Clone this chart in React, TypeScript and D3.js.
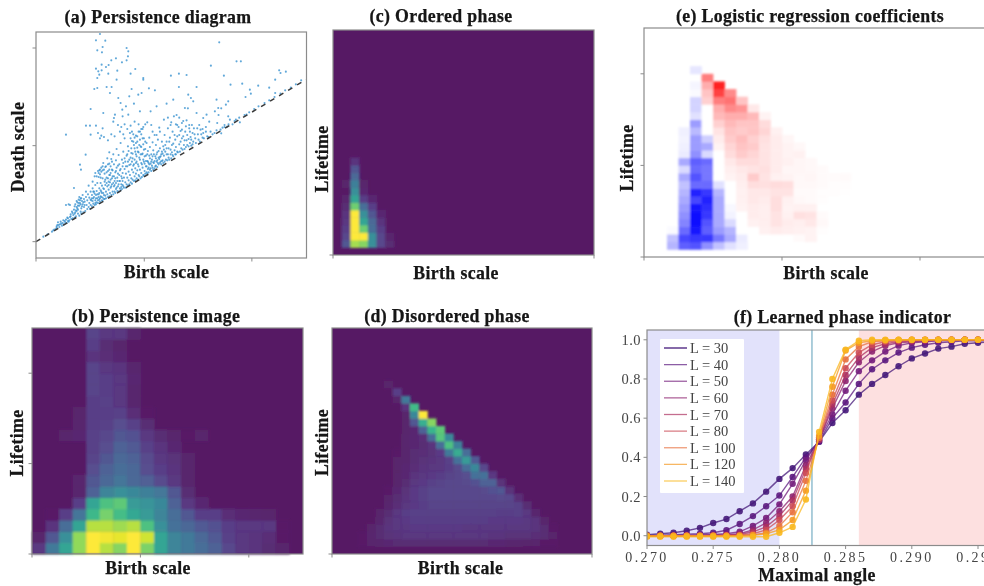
import React from 'react';
import * as d3 from 'd3';

// The axes of (a) carry no printed numbers, so births and deaths are in units.
const diagramPoints = [
  [22,15],[35,22],[48,30],[55,36],[60,38],[52,34],
  [62,42],[64,50],[66,58],[70,44],[72,52],[74,60],[78,48],[80,56],[82,64],[84,52],[88,58],[90,66],[92,56],[94,72],[96,62],[98,60],[90,110],[98,112],[102,110],
  [100,64],[102,74],[104,82],[106,68],[108,90],[110,70],[112,80],[114,96],[116,72],[118,88],[120,76],[122,104],[124,118],[126,84],[126,96],[128,126],[130,78],[130,108],[132,116],[134,90],[134,130],[136,84],[136,100],[138,122],[140,112],[140,140],[114,161],[132,231],[135,216],[149,261],[90,321],[150,348],[162,348],[164,321],
  [142,88],[144,104],[146,120],[148,92],[150,134],[150,150],[152,110],[154,98],[154,124],[156,142],[158,104],[158,168],[160,116],[160,132],[162,98],[164,150],[164,110],[166,124],[168,106],[168,140],[170,160],[170,180],[172,114],[172,130],[174,150],[176,110],[176,196],[178,124],[178,170],[180,140],[180,112],
  [182,118],[182,152],[184,130],[184,176],[186,116],[186,212],[188,142],[188,194],[190,126],[190,160],[192,216],[192,120],[194,136],[194,176],[196,150],[196,222],[198,124],[198,168],[200,132],[200,190],[200,214],[202,146],[202,236],[204,128],[204,158],[206,180],[206,204],[208,138],[208,170],[210,130],[210,150],[210,226],[212,192],[214,142],[214,166],[214,250],[216,134],[216,212],[218,156],[218,180],[220,136],[220,234],[220,268],
  [222,146],[222,200],[224,162],[224,186],[226,140],[226,248],[228,172],[228,216],[230,150],[230,196],[232,142],[232,262],[234,166],[234,232],[236,182],[236,150],[238,208],[238,146],[240,158],[240,176],[240,244],[242,222],[242,278],[244,152],[244,192],[246,166],[246,204],[248,150],[248,260],[250,182],[250,232],[252,160],[252,214],[254,154],[254,296],[256,196],[256,172],[258,246],[258,158],[260,206],[260,226],[260,182],
  [262,166],[262,270],[264,192],[264,162],[266,218],[266,310],[268,178],[268,240],[270,162],[270,204],[272,258],[272,172],[274,192],[274,226],[276,168],[276,286],[278,184],[278,210],[280,246],[280,172],[282,200],[282,326],[284,178],[284,232],[286,266],[286,190],[288,174],[288,216],[290,250],[290,186],[292,208],[292,300],[294,182],[294,232],[296,196],[296,280],[298,220],[298,184],[300,262],[300,204],
  [302,190],[302,240],[304,300],[304,214],[306,186],[306,270],[308,226],[308,200],[310,252],[310,196],[312,216],[312,330],[314,190],[314,286],[316,236],[316,206],[318,262],[318,194],[320,222],[320,310],[322,200],[322,246],[324,198],[324,276],[326,212],[326,234],[328,352],[328,204],[330,258],[330,226],[332,208],[332,296],[334,242],[334,204],[336,218],[336,272],[338,236],[338,208],[340,312],[340,258],
  [342,216],[342,284],[344,234],[346,212],[346,262],[348,246],[350,222],[350,298],[352,216],[352,274],[354,236],[356,220],[356,320],[358,256],[360,228],[360,290],[362,240],[364,224],[364,268],[366,306],[368,232],[368,252],[370,342],[372,236],[372,280],[374,256],[376,232],[378,270],[378,300],[380,244],
  [382,236],[382,286],[384,258],[386,240],[386,320],[388,270],[390,246],[392,300],[392,262],[394,244],[396,340],[398,280],[398,252],[400,246],[402,312],[404,262],[404,350],[406,250],[408,290],[410,260],[410,330],[412,256],[414,376],[416,274],[418,262],[418,306],[420,352],[420,262],
  [422,380],[424,270],[424,316],[426,268],[428,344],[430,292],[432,270],[434,332],[436,280],[438,310],[440,276],[442,362],[444,290],[446,278],[448,330],[450,284],[452,304],[454,290],[456,400],[458,286],[460,340],[462,296],[464,314],[466,288],[468,350],[470,292],
  [472,300],[476,322],[480,296],[484,340],[488,306],[492,300],[496,322],[500,312],[504,310],[510,344],[514,316],[518,314],[524,330],[530,322],[536,326],[542,334],[548,380],[554,336],[556,400],[560,342],
  [192,623],[180,604],[208,603],[184,574],[200,584],[198,568],[272,581],[277,571],[276,556],[272,544],[258,538],[240,550],[226,544],[218,530],[197,531],[210,524],[180,519],[187,511],[197,514],[217,504],[190,501],[184,491],[244,513],[242,486],[298,518],[284,504],[322,491],[322,486],[525,528],[550,598],[602,541],[615,541],[730,514],[734,506],[750,510],[718,486],[405,498],[429,504],[452,500],[564,498],[584,471],[619,474],[667,468],[642,456],[700,462],[718,446],[645,444],[629,434],[482,464],[429,464],[357,454],[339,460],[287,458],[227,464],[212,464],[184,461],[175,458],[222,446],[247,431],[254,416],[280,436],[307,441],[317,446],[294,414],[270,406],[259,396],[164,398],[202,386],[237,381],[234,371],[260,376],[277,381],[312,391],[344,391],[362,406],[392,414],[412,426],[457,441],[465,431],[472,421],[447,401],[542,426],[577,421],[570,411],[547,401],[537,391],[512,381],[482,386],[502,371],[577,376],[582,366],[632,381],[544,356],
  [232,360],[246,350],[256,344],[266,352],[284,348],[296,360],[308,352],[322,344],[334,358],[346,350],[196,318],[186,326],[192,310],[204,314],[216,304],[226,322],[236,316],[252,330],[262,322],[274,338],[200,340],[180,348],[288,330],[300,318],[316,338],[350,330],[362,320],[372,330],[384,366],[396,372],[406,358],[430,372],[438,356],[452,364],[460,350],[474,340],[490,350],[500,338],[520,360],[566,350],[574,345],[590,352],[600,366],[612,358],[556,325],
  [566,344],[578,352],[596,362],[610,372],[626,380],[640,388],[655,398],[668,406],[686,416],[700,424],[716,434],[734,444],[748,454],[765,462],[780,472],[796,484],
  [118,112],[122,122],[126,108],[128,116],[132,124],[134,112],[136,130],[138,106],[142,118],[144,128],[146,110],[130,134],[124,100],[120,94],[116,106],
  [170,122],[174,134],[178,116],[180,130],[184,142],[186,124],[188,134],[190,146],[192,130],[194,154],[196,134],[198,146],[200,122],[202,160],[204,140],[206,128],[176,144],[172,150],[168,130],[164,126],
  [208,186],[212,176],[216,190],[218,170],[220,200],[222,178],[224,206],[226,166],[228,190],[230,214],[232,176],[234,196],[236,170],[238,190],[240,212],[242,162],[244,182],[246,228],[248,172],[250,200],[252,182],[254,218],[256,164],[258,190],[260,170],
  [188,206],[192,202],[196,210],[200,226],[204,216],[208,224],[212,208],[216,232],[220,216],[224,226],[228,240],[194,192],[190,214],[182,196],[178,206],
  [262,236],[266,250],[270,226],[274,262],[276,240],[278,272],[280,230],[284,252],[286,280],[288,240],[290,264],[292,228],[294,290],[296,246],[298,270],[300,236],[302,256],[304,282],[306,232],[308,268],[310,290],[312,246],[314,262],[316,284],[318,232],[320,264],[322,292],[324,240],[326,256],[328,278],
  [330,242],[332,226],[334,262],[336,240],[338,222],[340,232],[342,250],[344,220],[346,240],[348,228],[350,256],[352,238],[354,262],[356,242],[358,226],[360,250],[362,262],[364,244],[366,236],[368,272],[370,248],[372,254],[374,240],[376,262],[378,242],[380,264],
  [284,310],[288,302],[292,322],[296,312],[300,296],[304,316],[308,330],[312,306],[316,322],[320,338],[324,310],[328,300],
  [384,276],[388,290],[392,280],[396,262],[400,300],[404,276],[408,268],[412,294],[416,320],[420,284],
  [424,350],[430,320],[434,300],[438,336],[442,316],[446,304],[450,346],[454,320],[458,308],[462,330],[466,306],[470,326],[478,310],[486,322],[494,336],[502,326],[510,330],
  [62,46],[68,50],[76,54],[86,62],[96,70],[104,76],[110,86],[116,84],[122,92],
];
const diagramDiagonal = [[0, 0], [812, 487]];

// Heat map rows: [row from the bottom, first column, values]. Cells not listed are zero.
const persistenceImage: [number, number, number[]][] = [
  [0, 0, [.1,.35,.55,.82,1,.88,.8,1,.78,.55,.4,.35,.3,.25,.15,.1,.08,.05,.02]],
  [1, 0, [.02,.2,.45,.82,1,.98,.96,1,.92,.55,.4,.35,.28,.22,.13,.1,.08,.06,.01]],
  [2, 1, [.08,.3,.55,.88,.88,.84,.88,.68,.45,.32,.27,.22,.18,.12,.1,.1,.1,.01]],
  [3, 1, [.01,.12,.33,.64,.77,.66,.56,.5,.4,.3,.2,.12,.12,.06,.04,.03,.02]],
  [4, 3, [.12,.55,.68,.72,.5,.47,.42,.25,.1,.04]],
  [5, 3, [.03,.25,.4,.45,.42,.38,.34,.2,.05]],
  [6, 3, [.03,.2,.28,.33,.28,.24,.16,.1,.02]],
  [7, 4, [.17,.25,.3,.27,.17,.12,.08,.02]],
  [8, 4, [.14,.2,.28,.25,.16,.1,.07,.02]],
  [9, 4, [.13,.17,.25,.22,.13,.08,.04]],
  [10, 2, [.02,.04,.13,.15,.2,.18,.1,.05,.02,0,.02]],
  [11, 3, [.03,.12,.13,.17,.13,.05]],
  [12, 3, [.02,.12,.12,.13,.06,.01]],
  [13, 4, [.12,.13,.1,.03]],
  [14, 4, [.14,.12,.1,.03]],
  [15, 4, [.14,.12,.1,.04]],
  [16, 4, [.14,.1,.08,.03]],
  [17, 4, [.08,.06,.04]],
  [18, 4, [.12,.05,.02]],
  [19, 4, [.14,.1,.1,.03]],
];

const orderedPhase: [number, number, number[]][] = [
  [1, 1, [.2,.85,.8,.45,.15,.05]],
  [2, 1, [.15,1,1,.45,.15,.03]],
  [3, 1, [.12,1,.75,.3,.12]],
  [4, 1, [.1,1,.55,.28,.08]],
  [5, 1, [.08,1,.45,.2,.04]],
  [6, 1, [.05,.75,.3,.12]],
  [7, 1, [.03,.55,.12,.04]],
  [8, 2, [.45,.04]],
  [9, 1, [.02,.38,.02]],
  [10, 2, [.28]],
  [11, 2, [.2]],
  [12, 2, [.08]],
];

const disorderedPhase: [number, number, number[]][] = [
  [1, 3, [.01,.02,.03,.04,.05,.05,.05,.05,.05,.05,.05,.05,.05,.05,.05,.04,.04,.03,.03,.02,.02,.01,.01]],
  [2, 3, [.01,.03,.05,.07,.08,.09,.09,.09,.09,.09,.09,.09,.09,.09,.09,.08,.08,.07,.07,.07,.06,.05,.02]],
  [3, 4, [.02,.05,.08,.09,.1,.11,.11,.11,.11,.11,.11,.1,.1,.1,.1,.1,.09,.09,.09,.08,.05,.01]],
  [4, 5, [.03,.07,.1,.11,.12,.12,.12,.12,.12,.12,.12,.12,.12,.11,.11,.11,.11,.1,.08,.02]],
  [5, 5, [.02,.05,.09,.12,.13,.13,.13,.13,.13,.13,.13,.13,.13,.13,.12,.12,.13,.1,.03]],
  [6, 6, [.03,.06,.09,.11,.12,.14,.14,.14,.14,.14,.14,.14,.14,.14,.14,.13,.05]],
  [7, 6, [.02,.05,.08,.11,.13,.15,.15,.15,.15,.15,.15,.15,.15,.16,.15,.06]],
  [8, 6, [.01,.04,.07,.11,.13,.15,.15,.15,.15,.15,.15,.16,.18,.2,.07]],
  [9, 7, [.02,.05,.09,.11,.13,.14,.15,.15,.16,.18,.25,.25,.07]],
  [10, 7, [.02,.04,.08,.1,.11,.12,.14,.15,.17,.32,.32,.1]],
  [11, 7, [.02,.04,.06,.08,.09,.1,.12,.16,.3,.42,.15]],
  [12, 7, [.02,.03,.05,.07,.08,.09,.13,.32,.5,.22]],
  [13, 7, [.01,.03,.05,.06,.07,.11,.35,.58,.3]],
  [14, 8, [.03,.04,.05,.08,.3,.68,.38]],
  [15, 8, [.03,.04,.06,.3,.7,.42]],
  [16, 8, [.02,.04,.25,.62,.72]],
  [17, 8, [.02,.2,.6,.8]],
  [18, 8, [.02,.42,1]],
  [19, 8, [.08,.65]],
  [20, 7, [.02,.35]],
  [21, 7, [.12]],
  [22, 6, [.02]],
];

// negative = disordered side (blue), positive = ordered side (red)
const regressionCoefficients: [number, number, number[]][] = [
  [1, 2, [-.3,-.65,-.7,-.45,-.25,-.12,-.06]],
  [2, 2, [-.25,-.75,-.8,-.8,-.55,-.35,-.08,0,0,0,0,.02,.05]],
  [3, 2, [-.02,-.6,-.95,-.65,-.4,-.3,0,0,.06,.08,.07,.06,.05,.01]],
  [4, 3, [-.5,-1,-.7,-.35,-.15,0,.06,.07,.12,.08,.07,.1,.03]],
  [5, 3, [-.45,-1,-.8,-.35,-.05,0,.08,.07,.12,.06,.13,.12,.02]],
  [6, 3, [-.4,-.95,-.85,-.35,-.03,.05,.08,.07,.14,.05,.06,.06]],
  [7, 3, [-.35,-.75,-.9,-.35,0,.06,.1,.08,.14,.06,.03,.02,.01]],
  [8, 3, [-.3,-.9,-.8,-.3,0,.06,.1,.1,.12,.12,.02,.02,.01,.01,.005]],
  [9, 3, [-.25,-.6,-.6,-.12,0,.07,.14,.13,.15,.14,.03,.03,.02,.01,.01]],
  [10, 3, [-.35,-.7,-.55,0,.05,.08,.22,.12,.06,.05,.03,.04,.02,.015,.02]],
  [11, 3, [-.15,-.6,-.55,0,.07,.1,.12,.13,.08,.04,.04,.03,.02]],
  [12, 3, [-.35,-.65,-.6,0,.1,.15,.15,.12,.08,.06,.04,.03]],
  [13, 3, [-.08,-.45,-.15,0,.15,.22,.18,.12,.08,.05,.06]],
  [14, 3, [-.06,-.4,-.35,.05,.18,.25,.22,.12,.08,.05,.03]],
  [15, 3, [-.05,-.4,-.2,.08,.22,.28,.2,.13,.08,.04]],
  [16, 3, [-.06,-.28,0,.12,.25,.22,.25,.18,.06]],
  [17, 4, [-.4,0,.2,.3,.25,.25,.15]],
  [18, 4, [-.12,0,.3,.35,.35,.3,.05]],
  [19, 4, [-.18,0,.35,.5,.45,.1]],
  [20, 4, [-.18,.2,.55,.6,.25]],
  [21, 4, [-.02,.25,.8,.5]],
  [22, 4, [-.04,.35,.95]],
  [23, 5, [.55]],
  [24, 4, [-.1]],
];

const angles = d3.range(27).map((i) => 0.27 + i * 0.001);
const systemSizes = [30, 40, 50, 60, 70, 80, 100, 120, 140];
const indicatorL30 = [.005,.01,.015,.025,.04,.065,.085,.125,.165,.225,.29,.345,.415,.48,.575,.64,.72,.775,.82,.865,.905,.93,.955,.965,.98,.985,.99];
const indicatorL40 = [0,.002,.005,.008,.01,.015,.028,.06,.1,.15,.205,.3,.4,.48,.6,.68,.775,.85,.895,.935,.96,.975,.985,.99,.995,.995,.998];
const indicatorL50 = [0,0,0,.002,.004,.006,.01,.02,.05,.09,.16,.265,.385,.49,.62,.74,.84,.895,.94,.97,.985,.99,.995,.997,.998,.999,1];
const indicatorL60 = [0,0,0,0,.001,.002,.004,.01,.03,.065,.125,.2,.36,.49,.65,.79,.885,.94,.97,.985,.99,.995,.998,.999,1,1,1];
const indicatorL70 = [0,0,0,0,0,.001,.002,.006,.02,.045,.1,.18,.34,.49,.67,.82,.91,.96,.98,.99,.995,.998,.999,1,1,1,1];
const indicatorL80 = [0,0,0,0,0,0,.001,.003,.01,.03,.08,.15,.32,.5,.69,.855,.935,.975,.99,.995,.998,.999,1,1,1,1,1];
const indicatorL100 = [0,0,0,0,0,0,0,.001,.004,.015,.05,.12,.28,.5,.72,.9,.965,.99,.995,.998,1,1,1,1,1,1,1];
const indicatorL120 = [0,0,0,0,0,0,0,0,.002,.01,.03,.08,.23,.51,.76,.945,.985,.995,.998,1,1,1,1,1,1,1,1];
const indicatorL140 = [-.005,-.005,-.005,-.005,-.005,-.005,-.005,-.005,-.005,-.005,.015,.045,.185,.53,.8,.95,.995,1,1,1,1,1,1,1,1,1,1];
const indicatorSeries = [indicatorL30, indicatorL40, indicatorL50, indicatorL60, indicatorL70, indicatorL80, indicatorL100, indicatorL120, indicatorL140];
const seriesColors = ['#451a7a', '#5c1a80', '#741c7c', '#8f2370', '#ac3060', '#cc4a55', '#e8713f', '#f59a22', '#f9b81f'];
const phaseBoundaries = [0.28, 0.286];
const criticalAngle = 0.28246;

const serif = '"Liberation Serif", serif';
const frameColor = '#8b8b8b';
const viridis = d3.scaleSequential(d3.interpolateViridis).domain([0, 1]);
const coefficientColor = d3.scaleLinear<string>().domain([-1, 0, 1]).range(['#0808ff', '#ffffff', '#ff1414']);

type Box = { x0: number; x1: number; y0: number; y1: number };
type Rows = [number, number, number[]][];

const Frame = ({ box, xTicks, yTicks }: { box: Box; xTicks: number[]; yTicks: number[] }) => (
  <g stroke={frameColor} fill="none">
    <rect x={box.x0} y={box.y0} width={box.x1 - box.x0} height={box.y1 - box.y0} strokeWidth={1.2} />
    {xTicks.map((t) => <line key={t} x1={t} x2={t} y1={box.y1} y2={box.y1 + 3.5} strokeWidth={1} />)}
    {yTicks.map((t) => <line key={t} x1={box.x0 - 3.5} x2={box.x0} y1={t} y2={t} strokeWidth={1} />)}
  </g>
);

const Label = ({ x, y, size = 17.8, spacing = 0.35, rotate = false, children }: any) => (
  <text
    x={x}
    y={y}
    textAnchor="middle"
    fontFamily={serif}
    fontWeight="bold"
    fontSize={size}
    letterSpacing={spacing}
    fill="#141414"
    stroke="#141414"
    strokeWidth={0.25}
    transform={rotate ? `rotate(-90 ${x} ${y})` : undefined}
  >
    {children}
  </text>
);

const HeatCells = ({ box, rows, size, color }: { box: Box; rows: Rows; size: number; color: (v: number) => string }) => {
  const x = d3.scaleBand<number>().domain(d3.range(size)).range([box.x0, box.x1]);
  const y = d3.scaleBand<number>().domain(d3.range(size)).range([box.y1, box.y0]);
  const cells = rows.flatMap(([row, col, values]) => values.map((v, i) => ({ row, col: col + i, v })));
  return (
    <g filter="url(#heat-soft)">
      {cells.map((c) => (
        <rect key={`${c.row}-${c.col}`} x={x(c.col)} y={y(c.row)} width={x.bandwidth() + 0.4} height={y.bandwidth() + 0.4} fill={color(c.v)} />
      ))}
    </g>
  );
};

const ViridisPanel = ({ box, rows, size }: { box: Box; rows: Rows; size: number }) => (
  <g opacity={0.9}>
    <rect x={box.x0} y={box.y0} width={box.x1 - box.x0} height={box.y1 - box.y0} fill={viridis(0)} />
    <HeatCells box={box} rows={rows} size={size} color={(v) => viridis(v)} />
  </g>
);

// (a)
const DiagramPanel = () => {
  const box = { x0: 36, x1: 306.5, y0: 32, y1: 258 };
  const x = d3.scaleLinear().domain([0, 812]).range([box.x0, box.x1]);
  const y = d3.scaleLinear().domain([-49, 629]).range([box.y1, box.y0]);
  const diagonal = d3.line().x((d) => x(d[0])).y((d) => y(d[1]));
  return (
    <g>
      {diagramPoints.map((p, i) => (
        <circle key={i} cx={x(p[0])} cy={y(p[1])} r={1.05} fill="#3a92d0" opacity={0.8} />
      ))}
      <path d={diagonal(diagramDiagonal as [number, number][]) as string} stroke="#3a3a3a" strokeWidth={1.5} strokeDasharray="5 5.5" fill="none" />
      <Frame box={box} xTicks={[0, 325, 648].map(x)} yTicks={[0, 288, 581].map(y)} />
    </g>
  );
};

// (f)
const IndicatorPanel = () => {
  const box = { x0: 647, x1: 1000, y0: 330, y1: 545.5 };
  const x = d3.scaleLinear().domain([0.27, 0.2967]).range([box.x0, box.x0 + (0.0267 / 0.005) * 66.2]);
  const y = d3.scaleLinear().domain([-0.05, 1.05]).range([box.y1, box.y0]);
  const line = d3.line<number>().x((_, i) => x(angles[i])).y((v) => y(v));
  const xTicks = d3.range(6).map((i) => 0.27 + i * 0.005);
  const yTicks = [0, 0.2, 0.4, 0.6, 0.8, 1];
  const legend = d3.scalePoint<number>().domain(systemSizes).range([348, 481]);
  return (
    <g>
      <clipPath id="indicator-clip">
        <rect x={box.x0} y={box.y0} width={box.x1 - box.x0} height={box.y1 - box.y0} />
      </clipPath>
      <rect x={x(0.27)} y={box.y0} width={x(phaseBoundaries[0]) - x(0.27)} height={box.y1 - box.y0} fill="#e2e2fb" />
      <rect x={x(phaseBoundaries[1])} y={box.y0} width={box.x1 - x(phaseBoundaries[1])} height={box.y1 - box.y0} fill="#fde0e0" />
      <line x1={x(criticalAngle)} x2={x(criticalAngle)} y1={box.y0} y2={box.y1} stroke="#6aa6bd" strokeWidth={1.1} />
      <g clipPath="url(#indicator-clip)">
        {indicatorSeries.map((values, s) => (
          <g key={systemSizes[s]}>
            <path d={line(values) as string} fill="none" stroke={seriesColors[s]} strokeWidth={1.4} opacity={0.75} />
            {values.map((v, i) => (
              <circle key={i} cx={x(angles[i])} cy={y(v)} r={3.2} fill={seriesColors[s]} opacity={0.9} />
            ))}
          </g>
        ))}
      </g>
      <Frame box={box} xTicks={xTicks.map(x)} yTicks={yTicks.map(y)} />
      {xTicks.map((t) => (
        <text key={t} x={x(t)} y={562} textAnchor="middle" fontFamily={serif} fontSize={14} letterSpacing={2.4} fill="#444">
          {t.toFixed(3)}
        </text>
      ))}
      {yTicks.map((t) => (
        <text key={t} x={641} y={y(t) + 5} textAnchor="end" fontFamily={serif} fontSize={14.5} letterSpacing={0.5} fill="#444">
          {t.toFixed(1)}
        </text>
      ))}
      <rect x={660} y={339} width={84} height={154} fill="#fff" rx={1} />
      {systemSizes.map((L, s) => (
        <g key={L}>
          <line x1={664} x2={687} y1={legend(L)} y2={legend(L)} stroke={seriesColors[s]} strokeWidth={1.3} opacity={s === 0 ? 1 : 0.7} />
          <text x={690} y={(legend(L) as number) + 5} fontFamily={serif} fontSize={14.5} fill="#444">{`L = ${L}`}</text>
        </g>
      ))}
    </g>
  );
};

const App = () => {
  const imageBox = { x0: 32, x1: 303, y0: 328, y1: 554 };
  const orderedBox = { x0: 333, x1: 594, y0: 30, y1: 255 };
  const disorderedBox = { x0: 332, x1: 592, y0: 328, y1: 554 };
  const regressionBox = { x0: 644, x1: 989, y0: 28, y1: 257 };
  const ticksOf = (b: Box, axis: 'x' | 'y') =>
    axis === 'x'
      ? [0, 0.4, 0.8].map(d3.scaleLinear().domain([0, 1]).range([b.x0, b.x1]))
      : [0, 0.4, 0.8].map(d3.scaleLinear().domain([0, 1]).range([b.y1, b.y0]));
  return (
    <svg width={984} height={586} style={{ position: 'absolute', left: 0, top: 0, overflow: 'hidden', background: '#fff' }}>
      <defs>
        <filter id="soft" x="0" y="0" width="984" height="586" filterUnits="userSpaceOnUse">
          <feGaussianBlur stdDeviation={0.55} />
        </filter>
        <filter id="heat-soft" x="0" y="0" width="984" height="586" filterUnits="userSpaceOnUse">
          <feGaussianBlur stdDeviation={0.8} />
        </filter>
      </defs>
      <g filter="url(#soft)">
        <DiagramPanel />
        <Label x={158} y={23}>(a) Persistence diagram</Label>
        <Label x={166.5} y={278}>Birth scale</Label>
        <Label x={24} y={147} rotate>Death scale</Label>

        <ViridisPanel box={imageBox} rows={persistenceImage} size={20} />
        <Frame box={imageBox} xTicks={ticksOf(imageBox, 'x')} yTicks={ticksOf(imageBox, 'y')} />
        <Label x={156} y={322}>(b) Persistence image</Label>
        <Label x={148} y={574}>Birth scale</Label>
        <Label x={23} y={443} rotate>Lifetime</Label>

        <ViridisPanel box={orderedBox} rows={orderedPhase} size={30} />
        <Frame box={orderedBox} xTicks={[orderedBox.x0, orderedBox.x1]} yTicks={[orderedBox.y1]} />
        <Label x={441} y={22}>(c) Ordered phase</Label>
        <Label x={456} y={279}>Birth scale</Label>
        <Label x={328} y={159} rotate>Lifetime</Label>

        <ViridisPanel box={disorderedBox} rows={disorderedPhase} size={30} />
        <Frame box={disorderedBox} xTicks={[disorderedBox.x0, disorderedBox.x1]} yTicks={[disorderedBox.y1]} />
        <Label x={447} y={322}>(d) Disordered phase</Label>
        <Label x={460.5} y={574}>Birth scale</Label>
        <Label x={328} y={442.5} rotate>Lifetime</Label>

        <HeatCells box={regressionBox} rows={regressionCoefficients} size={30} color={(v) => coefficientColor(v)} />
        <Frame box={regressionBox} xTicks={ticksOf(regressionBox, 'x')} yTicks={ticksOf(regressionBox, 'y')} />
        <Label x={810} y={22}>(e) Logistic regression coefficients</Label>
        <Label x={826} y={279}>Birth scale</Label>
        <Label x={633} y={158} rotate>Lifetime</Label>

        <IndicatorPanel />
        <Label x={842.5} y={323}>(f) Learned phase indicator</Label>
        <Label x={817} y={581}>Maximal angle</Label>
      </g>
    </svg>
  );
};

export default App;
